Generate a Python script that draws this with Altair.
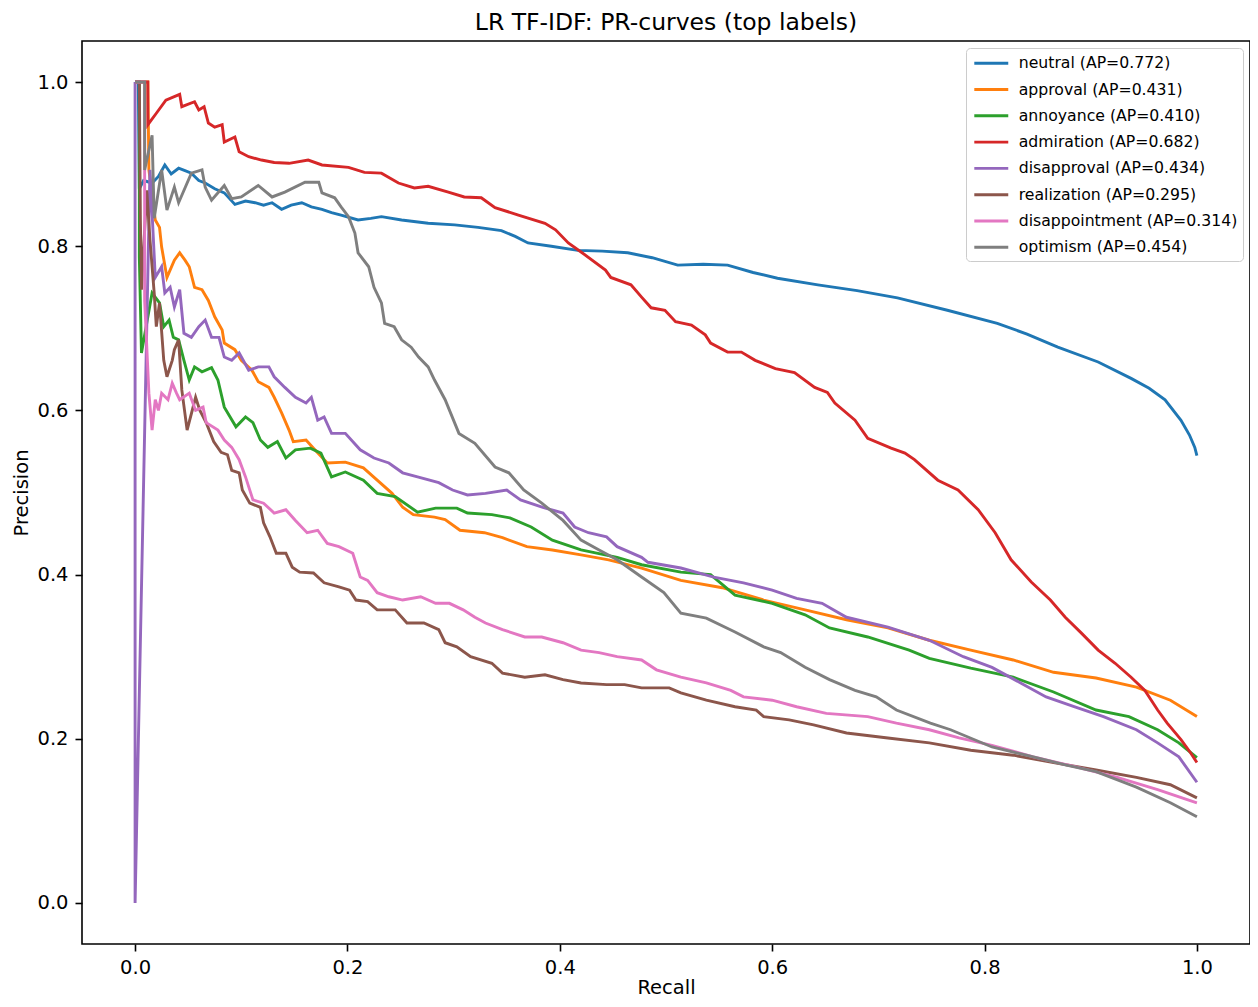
import altair as alt
import pandas as pd

LABELS = [
    "neutral (AP=0.772)",
    "approval (AP=0.431)",
    "annoyance (AP=0.410)",
    "admiration (AP=0.682)",
    "disapproval (AP=0.434)",
    "realization (AP=0.295)",
    "disappointment (AP=0.314)",
    "optimism (AP=0.454)",
]
COLORS = ["#1f77b4", "#ff7f0e", "#2ca02c", "#d62728", "#9467bd", "#8c564b", "#e377c2", "#7f7f7f"]
TICKS = [0.0, 0.2, 0.4, 0.6, 0.8, 1.0]

# (recall, precision) points
neutral = [(0, 1.0), (0.003, 1.0), (0.004, 0.870), (0.008, 0.880), (0.016, 0.877), (0.022, 0.885),
           (0.028, 0.899), (0.034, 0.888), (0.041, 0.895), (0.047, 0.892), (0.053, 0.889), (0.060, 0.880),
           (0.066, 0.877), (0.075, 0.870), (0.084, 0.865), (0.094, 0.851), (0.104, 0.855), (0.113, 0.853),
           (0.121, 0.850), (0.129, 0.853), (0.138, 0.845), (0.147, 0.850), (0.157, 0.853), (0.166, 0.848),
           (0.176, 0.845), (0.185, 0.841), (0.194, 0.838), (0.210, 0.832), (0.222, 0.834), (0.232, 0.836),
           (0.251, 0.832), (0.276, 0.828), (0.301, 0.826), (0.323, 0.823), (0.345, 0.819), (0.358, 0.812),
           (0.370, 0.804), (0.392, 0.800), (0.417, 0.795), (0.440, 0.794), (0.464, 0.792), (0.487, 0.786),
           (0.511, 0.777), (0.535, 0.778), (0.558, 0.777), (0.582, 0.768), (0.605, 0.761), (0.643, 0.753),
           (0.680, 0.746), (0.718, 0.737), (0.765, 0.722), (0.812, 0.706), (0.840, 0.693), (0.869, 0.677),
           (0.907, 0.659), (0.938, 0.639), (0.955, 0.627), (0.970, 0.613), (0.985, 0.588), (0.993, 0.570),
           (0.998, 0.555), (1.0, 0.545)]

approval = [(0, 1.0), (0.012, 1.0), (0.013, 0.893), (0.019, 0.832), (0.023, 0.823), (0.025, 0.799),
            (0.030, 0.762), (0.037, 0.783), (0.042, 0.792), (0.047, 0.783), (0.051, 0.775), (0.056, 0.750),
            (0.063, 0.747), (0.069, 0.734), (0.075, 0.714), (0.082, 0.698), (0.084, 0.682), (0.094, 0.674),
            (0.100, 0.661), (0.110, 0.649), (0.116, 0.635), (0.126, 0.628), (0.131, 0.616), (0.138, 0.597),
            (0.145, 0.576), (0.149, 0.562), (0.161, 0.564), (0.168, 0.554), (0.181, 0.536), (0.198, 0.537),
            (0.215, 0.530), (0.228, 0.515), (0.242, 0.499), (0.252, 0.482), (0.262, 0.473), (0.282, 0.470),
            (0.292, 0.467), (0.306, 0.454), (0.329, 0.451), (0.346, 0.445), (0.369, 0.434), (0.393, 0.430),
            (0.420, 0.424), (0.446, 0.418), (0.477, 0.408), (0.514, 0.393), (0.553, 0.384), (0.592, 0.369),
            (0.631, 0.357), (0.670, 0.345), (0.709, 0.335), (0.748, 0.320), (0.787, 0.308), (0.827, 0.296),
            (0.865, 0.281), (0.905, 0.274), (0.943, 0.263), (0.975, 0.247), (1.0, 0.227)]

annoyance = [(0, 1.0), (0.004, 1.0), (0.004, 0.787), (0.006, 0.670), (0.016, 0.743), (0.023, 0.731),
             (0.027, 0.702), (0.032, 0.710), (0.036, 0.689), (0.041, 0.686), (0.046, 0.661), (0.051, 0.637),
             (0.056, 0.653), (0.063, 0.647), (0.072, 0.652), (0.078, 0.637), (0.084, 0.604), (0.095, 0.580),
             (0.104, 0.592), (0.111, 0.585), (0.118, 0.564), (0.125, 0.555), (0.134, 0.562), (0.142, 0.542),
             (0.151, 0.552), (0.165, 0.554), (0.175, 0.548), (0.185, 0.519), (0.198, 0.525), (0.215, 0.515),
             (0.228, 0.499), (0.245, 0.495), (0.266, 0.476), (0.283, 0.481), (0.303, 0.481), (0.313, 0.475),
             (0.336, 0.473), (0.353, 0.469), (0.373, 0.458), (0.393, 0.442), (0.420, 0.430), (0.454, 0.421),
             (0.477, 0.412), (0.514, 0.403), (0.542, 0.400), (0.565, 0.375), (0.600, 0.365), (0.631, 0.351),
             (0.654, 0.335), (0.690, 0.324), (0.729, 0.308), (0.748, 0.298), (0.787, 0.286), (0.827, 0.275),
             (0.865, 0.257), (0.905, 0.235), (0.936, 0.227), (0.963, 0.211), (0.983, 0.195), (1.0, 0.177)]

admiration = [(0, 1.0), (0.012, 1.0), (0.012, 0.948), (0.020, 0.962), (0.029, 0.978), (0.042, 0.985),
              (0.044, 0.970), (0.056, 0.976), (0.060, 0.966), (0.065, 0.970), (0.069, 0.950), (0.075, 0.945),
              (0.082, 0.948), (0.084, 0.927), (0.094, 0.933), (0.098, 0.915), (0.107, 0.909), (0.119, 0.905),
              (0.131, 0.902), (0.145, 0.901), (0.163, 0.905), (0.176, 0.899), (0.201, 0.896), (0.216, 0.890),
              (0.232, 0.889), (0.248, 0.877), (0.263, 0.871), (0.276, 0.873), (0.295, 0.866), (0.310, 0.860),
              (0.326, 0.859), (0.339, 0.847), (0.361, 0.838), (0.386, 0.828), (0.396, 0.820), (0.408, 0.804),
              (0.420, 0.793), (0.443, 0.771), (0.448, 0.762), (0.467, 0.753), (0.477, 0.738), (0.486, 0.725),
              (0.499, 0.722), (0.509, 0.708), (0.524, 0.704), (0.537, 0.692), (0.542, 0.682), (0.558, 0.671),
              (0.571, 0.671), (0.584, 0.661), (0.603, 0.651), (0.621, 0.646), (0.640, 0.628), (0.652, 0.622),
              (0.659, 0.609), (0.678, 0.588), (0.690, 0.566), (0.712, 0.554), (0.725, 0.548), (0.734, 0.540),
              (0.756, 0.515), (0.775, 0.503), (0.794, 0.479), (0.810, 0.451), (0.825, 0.418), (0.844, 0.391),
              (0.862, 0.369), (0.876, 0.348), (0.891, 0.329), (0.907, 0.308), (0.923, 0.292), (0.938, 0.275),
              (0.951, 0.259), (0.963, 0.235), (0.972, 0.219), (0.985, 0.199), (0.994, 0.183), (1.0, 0.171)]

disapproval = [(0, 1.0), (0, 0.0), (0.014, 0.893), (0.019, 0.762), (0.025, 0.775), (0.028, 0.743),
               (0.033, 0.750), (0.037, 0.726), (0.042, 0.747), (0.046, 0.694), (0.053, 0.689), (0.060, 0.702),
               (0.066, 0.710), (0.072, 0.689), (0.079, 0.689), (0.084, 0.665), (0.091, 0.661), (0.098, 0.670),
               (0.107, 0.649), (0.116, 0.653), (0.126, 0.653), (0.131, 0.641), (0.141, 0.628), (0.151, 0.616),
               (0.161, 0.609), (0.166, 0.616), (0.172, 0.588), (0.178, 0.592), (0.185, 0.572), (0.198, 0.572),
               (0.212, 0.552), (0.225, 0.542), (0.239, 0.536), (0.252, 0.524), (0.266, 0.519), (0.286, 0.512),
               (0.299, 0.503), (0.313, 0.497), (0.330, 0.499), (0.350, 0.503), (0.363, 0.491), (0.384, 0.482),
               (0.403, 0.475), (0.414, 0.458), (0.427, 0.451), (0.444, 0.446), (0.454, 0.434), (0.477, 0.421),
               (0.483, 0.415), (0.514, 0.408), (0.545, 0.397), (0.573, 0.390), (0.600, 0.381), (0.623, 0.371),
               (0.647, 0.365), (0.670, 0.348), (0.709, 0.336), (0.748, 0.320), (0.780, 0.300), (0.807, 0.287),
               (0.834, 0.268), (0.858, 0.251), (0.885, 0.239), (0.912, 0.227), (0.943, 0.211), (0.963, 0.195),
               (0.983, 0.178), (1.0, 0.147)]

realization = [(0, 1.0), (0.004, 1.0), (0.005, 0.832), (0.006, 0.747), (0.011, 0.868), (0.014, 0.808),
               (0.018, 0.743), (0.020, 0.702), (0.023, 0.731), (0.027, 0.661), (0.030, 0.641), (0.035, 0.661),
               (0.037, 0.674), (0.041, 0.686), (0.044, 0.625), (0.049, 0.576), (0.057, 0.616), (0.061, 0.600),
               (0.067, 0.585), (0.074, 0.562), (0.081, 0.549), (0.087, 0.546), (0.091, 0.527), (0.098, 0.524),
               (0.101, 0.503), (0.108, 0.487), (0.118, 0.482), (0.121, 0.463), (0.127, 0.446), (0.133, 0.426),
               (0.142, 0.426), (0.148, 0.409), (0.155, 0.403), (0.168, 0.402), (0.178, 0.390), (0.192, 0.385),
               (0.202, 0.381), (0.208, 0.369), (0.219, 0.367), (0.228, 0.357), (0.245, 0.357), (0.256, 0.341),
               (0.272, 0.341), (0.286, 0.333), (0.292, 0.317), (0.303, 0.312), (0.316, 0.300), (0.336, 0.292),
               (0.346, 0.280), (0.367, 0.275), (0.386, 0.278), (0.403, 0.272), (0.420, 0.268), (0.444, 0.266),
               (0.461, 0.266), (0.477, 0.262), (0.503, 0.262), (0.514, 0.256), (0.538, 0.247), (0.565, 0.239),
               (0.585, 0.235), (0.592, 0.227), (0.616, 0.223), (0.639, 0.217), (0.670, 0.207), (0.709, 0.201),
               (0.748, 0.195), (0.787, 0.186), (0.827, 0.180), (0.865, 0.171), (0.905, 0.162), (0.943, 0.153),
               (0.975, 0.144), (1.0, 0.128)]

disappointment = [(0, 1.0), (0.009, 1.0), (0.009, 0.734), (0.013, 0.621), (0.016, 0.576), (0.019, 0.613),
                  (0.022, 0.600), (0.025, 0.621), (0.031, 0.613), (0.035, 0.633), (0.039, 0.621), (0.042, 0.613),
                  (0.051, 0.621), (0.057, 0.600), (0.064, 0.604), (0.067, 0.585), (0.078, 0.576), (0.084, 0.564),
                  (0.091, 0.555), (0.098, 0.540), (0.104, 0.519), (0.111, 0.491), (0.121, 0.487), (0.131, 0.475),
                  (0.142, 0.479), (0.151, 0.466), (0.162, 0.451), (0.172, 0.454), (0.181, 0.438), (0.192, 0.434),
                  (0.205, 0.426), (0.212, 0.397), (0.219, 0.393), (0.228, 0.378), (0.239, 0.373), (0.252, 0.369),
                  (0.269, 0.373), (0.283, 0.365), (0.296, 0.365), (0.309, 0.357), (0.320, 0.348), (0.330, 0.341),
                  (0.346, 0.333), (0.367, 0.324), (0.383, 0.324), (0.403, 0.317), (0.420, 0.308), (0.437, 0.305),
                  (0.454, 0.300), (0.477, 0.296), (0.491, 0.284), (0.514, 0.275), (0.538, 0.268), (0.561, 0.259),
                  (0.573, 0.251), (0.600, 0.247), (0.623, 0.239), (0.651, 0.231), (0.690, 0.227), (0.717, 0.219),
                  (0.748, 0.211), (0.776, 0.201), (0.807, 0.192), (0.846, 0.178), (0.885, 0.166), (0.925, 0.153),
                  (0.963, 0.138), (0.986, 0.128), (1.0, 0.122)]

optimism = [(0, 1.0), (0.009, 1.0), (0.009, 0.893), (0.016, 0.935), (0.018, 0.834), (0.025, 0.893),
            (0.030, 0.844), (0.037, 0.872), (0.041, 0.853), (0.053, 0.889), (0.063, 0.893), (0.066, 0.872),
            (0.072, 0.856), (0.084, 0.874), (0.091, 0.858), (0.100, 0.860), (0.116, 0.874), (0.129, 0.860),
            (0.141, 0.866), (0.160, 0.878), (0.173, 0.878), (0.176, 0.865), (0.188, 0.859), (0.194, 0.848),
            (0.201, 0.836), (0.207, 0.816), (0.210, 0.792), (0.220, 0.775), (0.225, 0.750), (0.232, 0.731),
            (0.235, 0.706), (0.244, 0.702), (0.251, 0.686), (0.260, 0.677), (0.267, 0.665), (0.276, 0.653),
            (0.282, 0.637), (0.292, 0.613), (0.305, 0.572), (0.320, 0.560), (0.339, 0.531), (0.352, 0.524),
            (0.366, 0.503), (0.383, 0.487), (0.403, 0.466), (0.420, 0.442), (0.437, 0.430), (0.454, 0.418),
            (0.477, 0.397), (0.498, 0.378), (0.514, 0.353), (0.538, 0.347), (0.565, 0.330), (0.592, 0.312),
            (0.608, 0.305), (0.631, 0.287), (0.654, 0.272), (0.678, 0.259), (0.698, 0.251), (0.717, 0.235),
            (0.749, 0.219), (0.768, 0.211), (0.807, 0.190), (0.846, 0.178), (0.877, 0.168), (0.905, 0.160),
            (0.943, 0.141), (0.975, 0.122), (1.0, 0.105)]

SERIES = [neutral, approval, annoyance, admiration, disapproval, realization, disappointment, optimism]

rows = []
for label, pts in zip(LABELS, SERIES):
    for i, (r, p) in enumerate(pts):
        rows.append({"label": label, "recall": r, "precision": p, "idx": i})
df = pd.DataFrame(rows)

FONT = "DejaVu Sans"

chart = alt.Chart(df).mark_line(strokeWidth=2.9, clip=True).encode(
    x=alt.X("recall:Q",
            scale=alt.Scale(domain=[-0.05, 1.05], nice=False, zero=False),
            axis=alt.Axis(values=TICKS, format=".1f", title="Recall", titlePadding=2, labelPadding=7)),
    y=alt.Y("precision:Q",
            scale=alt.Scale(domain=[-0.05, 1.05], nice=False, zero=False),
            axis=alt.Axis(values=TICKS, format=".1f", title="Precision", titlePadding=5, labelPadding=7)),
    color=alt.Color("label:N",
                    scale=alt.Scale(domain=LABELS, range=COLORS),
                    legend=alt.Legend(title=None, orient="top-right", offset=7, padding=5.7,
                                      strokeColor="#cccccc", fillColor="rgba(255,255,255,0.8)",
                                      cornerRadius=4, labelFont=FONT, labelFontSize=15.7,
                                      labelColor="black", symbolType="M-0.88,0H3.45",
                                      symbolSize=246, symbolStrokeWidth=2.9, labelOffset=28,
                                      rowPadding=8.3, labelLimit=400)),
    order=alt.Order("idx:Q"),
).properties(
    width=1168,
    height=903,
    title=alt.TitleParams("LR TF-IDF: PR-curves (top labels)", font=FONT, fontSize=23.5,
                          fontWeight="normal", color="black", anchor="middle", offset=7),
    autosize=alt.AutoSizeParams(type="none"),
    padding={"left": 74, "top": 33, "right": 0, "bottom": 55},
).configure_view(
    stroke="black", strokeWidth=1.6
).configure_axis(
    domain=False, grid=False, tickColor="black", tickSize=7, tickWidth=1.6,
    labelFont=FONT, labelFontSize=19.5, labelColor="black",
    labelFlush=False, labelOverlap=False,
    titleFont=FONT, titleFontSize=19.5, titleFontWeight="normal", titleColor="black"
)

chart.save("out.html", embed_options={"renderer": "svg", "actions": False})
